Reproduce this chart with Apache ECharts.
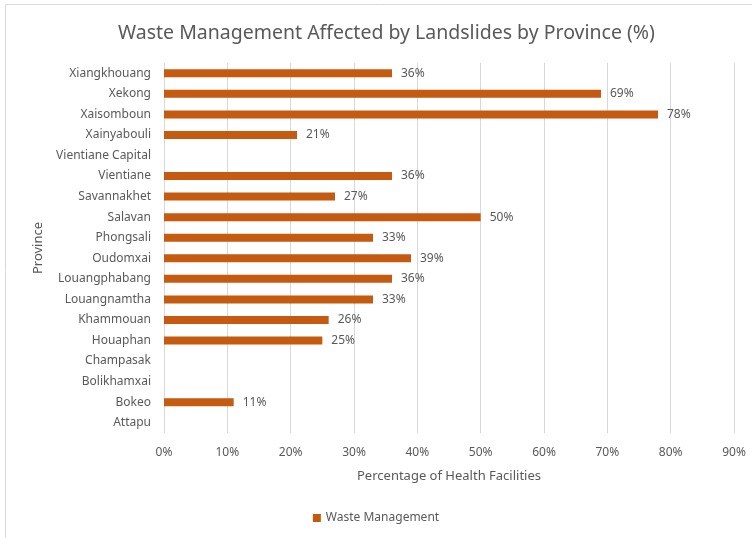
<!DOCTYPE html>
<html>
<head>
<meta charset="utf-8">
<script src="https://cdn.jsdelivr.net/npm/echarts@6/dist/echarts.min.js"></script>
<style>
  html, body { margin: 0; padding: 0; background: #fff; }
  #chart { width: 752px; height: 538px; }
</style>
</head>
<body>
<div id="chart"></div>
<script>
// Provinces listed top to bottom
const provinces = [
  'Xiangkhouang', 'Xekong', 'Xaisomboun', 'Xainyabouli', 'Vientiane Capital',
  'Vientiane', 'Savannakhet', 'Salavan', 'Phongsali', 'Oudomxai',
  'Louangphabang', 'Louangnamtha', 'Khammouan', 'Houaphan', 'Champasak',
  'Bolikhamxai', 'Bokeo', 'Attapu'
];
// Share of health facilities with waste management affected (%), null = no data
const wasteManagement = [
  36, 69, 78, 21, null,
  36, 27, 50, 33, 39,
  36, 33, 26, 25, null,
  null, 11, null
];
const xTicks = { min: 0, max: 90, interval: 10 };

const FONT = 'Noto Sans';
const TEXT = '#595959';

const chart = echarts.init(document.getElementById('chart'), null, { renderer: 'canvas' });
chart.setOption({
  animation: false,
  backgroundColor: '#fff',
  textStyle: { fontFamily: FONT },
  title: {
    text: 'Waste Management Affected by Landslides by Province (%)',
    left: 113,
    top: 18,
    textStyle: { fontFamily: FONT, fontSize: 19.5, fontWeight: 'normal', color: TEXT }
  },
  graphic: [{
    type: 'rect',
    shape: { x: 5.5, y: 4.5, width: 800, height: 600 },
    style: { fill: 'none', stroke: '#d9d9d9', lineWidth: 1 },
    silent: true
  }],
  legend: {
    bottom: 9,
    left: 'center',
    itemWidth: 8,
    itemHeight: 8,
    itemGap: 6,
    icon: 'rect',
    textStyle: { fontFamily: FONT, fontSize: 12, color: TEXT },
    data: ['Waste Management']
  },
  grid: { left: 164, right: 18, top: 63, bottom: 105, containLabel: false },
  xAxis: {
    type: 'value',
    min: xTicks.min,
    max: xTicks.max,
    interval: xTicks.interval,
    name: 'Percentage of Health Facilities',
    nameLocation: 'middle',
    nameGap: 37,
    nameTextStyle: { fontFamily: FONT, fontSize: 13, color: TEXT },
    axisLabel: { formatter: '{value}%', color: TEXT, fontSize: 12, margin: 14 },
    axisLine: { show: false },
    axisTick: { show: false },
    splitLine: { show: true, lineStyle: { color: '#d9d9d9', width: 1 } }
  },
  yAxis: {
    type: 'category',
    data: provinces,
    inverse: true,
    name: 'Province',
    nameLocation: 'middle',
    nameGap: 119,
    nameRotate: 90,
    nameTextStyle: { fontFamily: FONT, fontSize: 13, color: TEXT },
    axisLabel: { color: TEXT, fontSize: 12, margin: 13 },
    axisLine: { show: true, lineStyle: { color: '#d9d9d9', width: 1 } },
    axisTick: { show: false },
    splitLine: { show: false }
  },
  series: [{
    name: 'Waste Management',
    type: 'bar',
    data: wasteManagement,
    barWidth: 8,
    itemStyle: { color: '#C55A11' },
    label: {
      show: true,
      position: 'right',
      distance: 9,
      formatter: p => p.value == null ? '' : p.value + '%',
      color: TEXT,
      fontSize: 12,
      fontFamily: FONT
    }
  }]
});
</script>
</body>
</html>
